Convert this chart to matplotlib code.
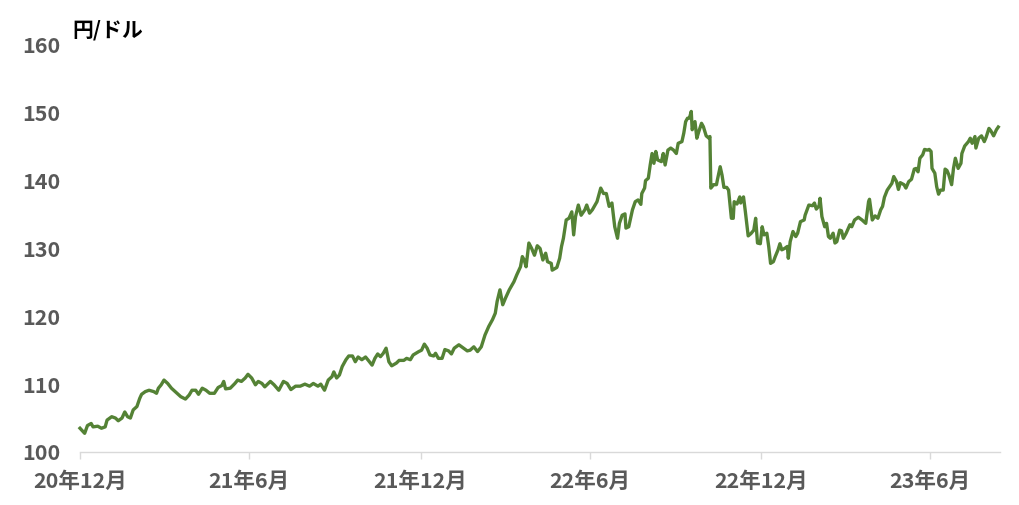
import matplotlib as mpl
mpl.use('Agg')
import matplotlib.pyplot as plt
import pandas as pd

plt.rcParams['font.family'] = ['Noto Sans CJK JP', 'DejaVu Sans']

# USD/JPY (円/ドル)
dates_2021 = ['2020-12-31', '2021-01-02', '2021-01-05', '2021-01-08', '2021-01-12', '2021-01-14', '2021-01-19',
              '2021-01-23', '2021-01-27', '2021-01-29', '2021-02-03', '2021-02-07', '2021-02-10', '2021-02-14',
              '2021-02-17', '2021-02-20', '2021-02-23', '2021-02-26', '2021-03-02', '2021-03-05', '2021-03-07',
              '2021-03-11', '2021-03-15', '2021-03-20', '2021-03-23', '2021-03-25', '2021-03-28', '2021-03-31',
              '2021-04-04', '2021-04-08', '2021-04-14', '2021-04-18', '2021-04-23', '2021-04-27', '2021-04-30',
              '2021-05-04', '2021-05-07', '2021-05-11', '2021-05-15', '2021-05-19', '2021-05-24', '2021-05-28',
              '2021-06-01', '2021-06-03', '2021-06-05', '2021-06-10', '2021-06-15', '2021-06-18', '2021-06-22',
              '2021-06-26', '2021-06-29', '2021-07-03', '2021-07-07', '2021-07-10', '2021-07-14', '2021-07-17',
              '2021-07-23', '2021-07-27', '2021-08-01', '2021-08-06', '2021-08-10', '2021-08-14', '2021-08-19',
              '2021-08-24', '2021-08-29', '2021-09-03', '2021-09-07', '2021-09-12', '2021-09-15', '2021-09-19',
              '2021-09-23', '2021-09-27', '2021-09-29', '2021-10-02', '2021-10-05', '2021-10-08', '2021-10-12',
              '2021-10-15', '2021-10-19', '2021-10-22', '2021-10-25', '2021-10-29', '2021-11-02', '2021-11-05',
              '2021-11-09', '2021-11-12', '2021-11-15', '2021-11-18', '2021-11-21', '2021-11-24', '2021-11-27',
              '2021-11-30', '2021-12-05', '2021-12-08', '2021-12-13', '2021-12-16', '2021-12-20', '2021-12-23',
              '2021-12-29']
rate_2021 = [103.5, 103.2, 102.75, 103.9, 104.2, 103.7, 103.8,
             103.5, 103.7, 104.7, 105.2, 105.0, 104.6, 105.0,
             105.9, 105.2, 105.0, 106.2, 106.7, 107.9, 108.5,
             108.9, 109.1, 108.9, 108.65, 109.4, 109.9, 110.6,
             110.1, 109.4, 108.65, 108.15, 107.8, 108.4, 109.1,
             109.1, 108.5, 109.4, 109.1, 108.65, 108.65, 109.5,
             109.8, 110.4, 109.3, 109.4, 110.1, 110.6, 110.4,
             110.9, 111.45, 110.9, 109.9, 110.4, 110.1, 109.6,
             110.4, 109.9, 109.1, 110.4, 110.1, 109.2, 109.7,
             109.7, 110.0, 109.7, 110.1, 109.7, 110.0, 109.1,
             110.6, 111.1, 111.8, 110.9, 111.35, 112.6, 113.6,
             114.15, 114.15, 113.3, 114.0, 113.6, 114.0, 113.5,
             112.8, 113.8, 114.45, 114.05, 114.55, 115.3, 113.3,
             112.7, 113.1, 113.5, 113.5, 113.8, 113.6, 114.3,
             114.8]

dates_2022 = ['2022-01-01', '2022-01-04', '2022-01-07', '2022-01-10', '2022-01-14', '2022-01-16', '2022-01-19',
              '2022-01-23', '2022-01-26', '2022-01-30', '2022-02-02', '2022-02-05', '2022-02-10', '2022-02-13',
              '2022-02-19', '2022-02-22', '2022-02-26', '2022-03-02', '2022-03-06', '2022-03-10', '2022-03-14',
              '2022-03-18', '2022-03-21', '2022-03-23', '2022-03-26', '2022-03-29', '2022-04-01', '2022-04-05',
              '2022-04-10', '2022-04-13', '2022-04-17', '2022-04-19', '2022-04-21', '2022-04-23', '2022-04-26',
              '2022-04-29', '2022-05-02', '2022-05-05', '2022-05-08', '2022-05-11', '2022-05-14', '2022-05-16',
              '2022-05-20', '2022-05-21', '2022-05-26', '2022-05-29', '2022-05-31', '2022-06-02', '2022-06-05',
              '2022-06-08', '2022-06-11', '2022-06-13', '2022-06-15', '2022-06-18', '2022-06-21', '2022-06-25',
              '2022-06-27', '2022-06-30', '2022-07-03', '2022-07-08', '2022-07-12', '2022-07-15', '2022-07-18',
              '2022-07-21', '2022-07-24', '2022-07-27', '2022-07-30', '2022-08-01', '2022-08-04', '2022-08-07',
              '2022-08-08', '2022-08-11', '2022-08-15', '2022-08-18', '2022-08-21', '2022-08-24', '2022-08-25',
              '2022-08-28', '2022-08-29', '2022-09-01', '2022-09-03', '2022-09-05', '2022-09-07', '2022-09-09',
              '2022-09-11', '2022-09-15', '2022-09-17', '2022-09-19', '2022-09-22', '2022-09-25', '2022-09-28',
              '2022-10-01', '2022-10-03', '2022-10-07', '2022-10-09', '2022-10-11', '2022-10-13', '2022-10-15',
              '2022-10-17', '2022-10-18', '2022-10-21', '2022-10-23', '2022-10-25', '2022-10-28', '2022-10-30',
              '2022-11-02', '2022-11-05', '2022-11-06', '2022-11-07', '2022-11-10', '2022-11-13', '2022-11-14',
              '2022-11-17', '2022-11-19', '2022-11-21', '2022-11-24', '2022-11-26', '2022-11-29', '2022-12-01',
              '2022-12-02', '2022-12-05', '2022-12-08', '2022-12-09', '2022-12-12', '2022-12-14', '2022-12-17',
              '2022-12-20', '2022-12-23', '2022-12-25', '2022-12-27', '2022-12-30']
rate_2022 = [115.0, 115.9, 115.3, 114.3, 114.15, 114.55, 113.8,
             113.8, 115.1, 114.9, 114.45, 115.3, 115.8, 115.5,
             114.9, 115.0, 115.5, 114.8, 115.5, 117.25, 118.5,
             119.5, 120.45, 122.2, 123.9, 121.7, 122.7, 123.9,
             125.1, 126.1, 127.3, 128.8, 128.3, 127.3, 130.8,
             130.0, 129.0, 130.4, 130.0, 128.3, 129.3, 128.05,
             127.8, 126.8, 127.2, 128.55, 130.3, 131.5, 134.2,
             134.45, 135.4, 132.0, 134.7, 136.4, 134.9, 135.7,
             136.4, 135.2, 135.7, 136.9, 138.9, 138.1, 138.1,
             136.2, 136.7, 133.2, 131.5, 133.7, 134.9, 135.1,
             133.0, 133.2, 135.7, 136.9, 137.15, 136.5, 138.1,
             138.9, 140.0, 140.35, 142.3, 144.0, 142.55, 144.3,
             143.05, 142.8, 144.0, 142.3, 144.5, 144.8, 144.5,
             144.0, 145.5, 145.75, 147.0, 148.7, 149.2, 149.2,
             150.2, 147.5, 148.7, 146.25, 147.2, 148.45, 147.95,
             146.6, 146.25, 146.5, 138.9, 139.4, 139.4, 140.1,
             142.05, 140.8, 139.0, 139.0, 138.6, 134.45, 134.45,
             136.9, 136.55, 137.6, 136.7, 137.6, 135.4, 131.85,
             132.2, 132.7, 134.45, 130.8, 130.7]

dates_2023 = ['2023-01-01', '2023-01-03', '2023-01-06', '2023-01-08', '2023-01-10', '2023-01-13', '2023-01-15',
              '2023-01-18', '2023-01-20', '2023-01-22', '2023-01-25', '2023-01-28', '2023-01-29', '2023-01-31',
              '2023-02-03', '2023-02-06', '2023-02-08', '2023-02-11', '2023-02-15', '2023-02-16', '2023-02-20',
              '2023-02-24', '2023-02-26', '2023-02-28', '2023-03-03', '2023-03-04', '2023-03-06', '2023-03-09',
              '2023-03-11', '2023-03-13', '2023-03-15', '2023-03-18', '2023-03-20', '2023-03-22', '2023-03-25',
              '2023-03-27', '2023-03-29', '2023-04-01', '2023-04-05', '2023-04-07', '2023-04-10', '2023-04-14',
              '2023-04-18', '2023-04-22', '2023-04-25', '2023-04-26', '2023-04-29', '2023-05-02', '2023-05-05',
              '2023-05-08', '2023-05-10', '2023-05-12', '2023-05-15', '2023-05-17', '2023-05-20', '2023-05-22',
              '2023-05-25', '2023-05-27', '2023-05-29', '2023-06-02', '2023-06-04', '2023-06-07', '2023-06-10',
              '2023-06-13', '2023-06-15', '2023-06-17', '2023-06-19', '2023-06-22', '2023-06-24', '2023-06-27',
              '2023-06-29', '2023-07-01', '2023-07-02', '2023-07-05', '2023-07-07', '2023-07-09', '2023-07-11',
              '2023-07-14', '2023-07-16', '2023-07-18', '2023-07-20', '2023-07-23', '2023-07-25', '2023-07-27',
              '2023-07-30', '2023-08-02', '2023-08-03', '2023-08-06', '2023-08-10', '2023-08-12', '2023-08-14',
              '2023-08-17', '2023-08-18', '2023-08-21', '2023-08-24', '2023-08-27', '2023-08-29', '2023-09-01',
              '2023-09-03', '2023-09-06', '2023-09-09', '2023-09-11']
rate_2023 = [133.2, 132.0, 132.25, 130.3, 127.8, 128.05, 128.8,
             129.8, 130.7, 129.8, 130.0, 130.3, 128.55, 131.0,
             132.5, 131.75, 132.25, 133.95, 134.2, 134.9, 136.4,
             136.3, 136.7, 135.8, 136.3, 137.4, 134.7, 133.2,
             133.7, 131.75, 131.5, 132.25, 130.8, 131.0, 132.7,
             132.6, 131.5, 132.25, 133.5, 133.2, 134.2, 134.6,
             134.2, 133.7, 136.9, 137.25, 134.2, 134.8, 134.45,
             135.7, 136.2, 137.55, 138.6, 139.0, 139.6, 140.6,
             139.85, 138.7, 139.7, 139.4, 138.9, 139.85, 140.2,
             141.7, 141.8, 141.3, 143.3, 143.8, 144.6, 144.5,
             144.6, 144.3, 141.8, 141.1, 139.1, 138.0, 138.6,
             138.6, 141.7, 141.5, 140.85, 139.4, 141.8, 143.3,
             141.8, 142.55, 144.0, 145.1, 145.75, 146.25, 145.5,
             146.5, 144.8, 146.25, 146.6, 145.75, 146.4, 147.7,
             147.35, 146.6, 147.5, 147.9]

tick_dates = ['2020-12-31', '2021-06-30', '2021-12-31', '2022-06-30', '2022-12-31', '2023-06-30']
tick_labels = ['20年12月', '21年6月', '21年12月', '22年6月', '22年12月', '23年6月']
y_ticks = [100, 110, 120, 130, 140, 150, 160]

dates = pd.to_datetime(dates_2021 + dates_2022 + dates_2023)
rates = rate_2021 + rate_2022 + rate_2023

fig = plt.figure(figsize=(10.19, 5.05), dpi=100)
ax = fig.add_axes([0.0785, 0.105, 0.903, 0.806])

ax.plot(dates, rates, color='#548235', lw=2.4, solid_joinstyle='round', clip_on=False)

ax.set_xlim(pd.Timestamp('2020-12-31'), pd.Timestamp('2023-09-13'))
ax.set_ylim(100, 160)
ax.set_yticks(y_ticks)
ax.set_xticks(pd.to_datetime(tick_dates))
ax.set_xticklabels(tick_labels)

for side in ['top', 'right', 'left']:
    ax.spines[side].set_visible(False)
ax.spines['bottom'].set_color('#D9D9D9')
ax.spines['bottom'].set_linewidth(1.0)

ax.tick_params(axis='x', length=5, width=1, color='#D9D9D9', pad=9,
               labelsize=15.5, labelcolor='#595959')
ax.tick_params(axis='y', length=0, pad=14, labelsize=15.5, labelcolor='#595959')
for lab in ax.get_xticklabels() + ax.get_yticklabels():
    lab.set_fontweight('bold')

fig.text(0.0707, 0.94, '円/ドル', fontsize=15, fontweight='bold', color='black', va='center')

fig.savefig('out.png', dpi=100)
